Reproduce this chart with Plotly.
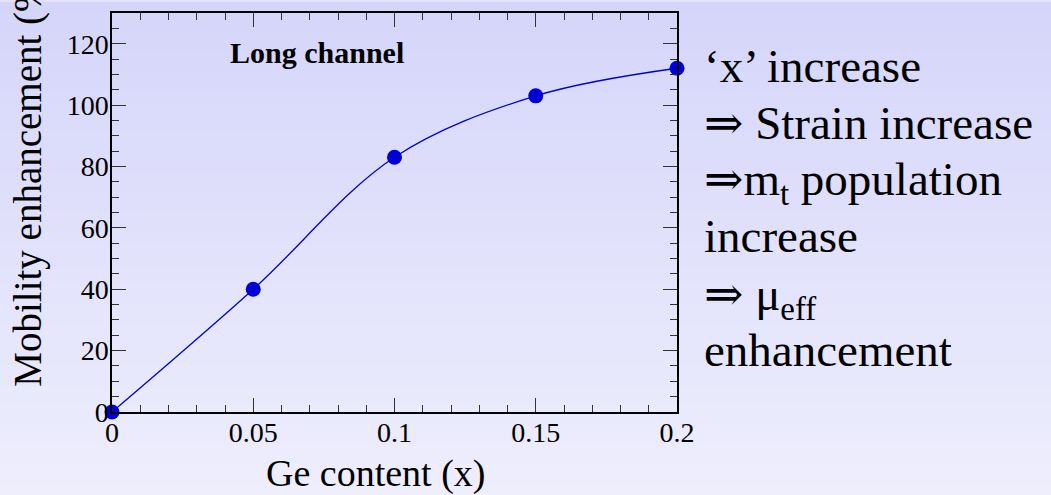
import plotly.graph_objects as go

# Mobility enhancement vs Ge content (long channel device)
ge_content = [0.0, 0.05, 0.10, 0.15, 0.20]
mobility_enh = [0, 40, 83, 103, 112]

x_ticks = [0, 0.05, 0.1, 0.15, 0.2]
x_tick_text = ["0", "0.05", "0.1", "0.15", "0.2"]
y_ticks = [0, 20, 40, 60, 80, 100, 120]

bullet_lines = [
    "‘x’ increase",
    "⇒ Strain increase",
    "⇒m<sub>t</sub> population",
    "increase",
    "⇒ μ<sub>eff</sub>",
    "enhancement",
]

W, H = 1051, 495
L, R, T, B = 112, 374, 11, 83
PW, PH = W - L - R, H - T - B
SERIF = "Liberation Serif, Times New Roman, DejaVu Serif, serif"
BLUE = "#0000D6"


def px_x(px):
    return (px - L) / PW


def px_y(py):
    return (H - B - py) / PH


fig = go.Figure()
fig.add_trace(go.Scatter(
    x=ge_content, y=mobility_enh,
    mode="lines+markers",
    line=dict(color=BLUE, width=1.3, shape="spline", smoothing=1.0),
    marker=dict(color=BLUE, size=15),
    cliponaxis=False,
    showlegend=False,
))

# soft vertical lavender gradient behind everything
n_bands = 99
top_rgb = (213, 213, 250)
bot_rgb = (238, 238, 253)
shapes = []
for i in range(n_bands):
    t = i / (n_bands - 1)
    c = tuple(round(a + (b - a) * t) for a, b in zip(top_rgb, bot_rgb))
    y0 = H * i / n_bands
    y1 = H * (i + 1) / n_bands + 1
    shapes.append(dict(
        type="rect", xref="paper", yref="paper", layer="below",
        x0=px_x(0), x1=px_x(W), y0=px_y(y1), y1=px_y(y0),
        fillcolor="rgb(%d,%d,%d)" % c, line=dict(width=0),
    ))

annotations = [
    dict(text="<b>Long channel</b>", x=px_x(228), y=px_y(51),
         xanchor="left", yanchor="middle",
         font=dict(family=SERIF, size=30, color="black")),
    dict(text="Mobility enhancement (%)", textangle=-90,
         x=px_x(28.5), y=px_y(176), xanchor="center", yanchor="middle",
         font=dict(family=SERIF, size=39, color="black")),
    dict(text="Ge content (x)", x=px_x(375), y=px_y(474),
         xanchor="center", yanchor="middle",
         font=dict(family=SERIF, size=38, color="black")),
]
centers = [64, 122, 181, 235, 297, 350]
for txt, cy in zip(bullet_lines, centers):
    annotations.append(dict(
        text=txt, x=px_x(702), y=px_y(cy), xanchor="left", yanchor="middle",
        align="left", font=dict(family=SERIF, size=47, color="black"),
    ))
for a in annotations:
    a.update(xref="paper", yref="paper", showarrow=False)

axis_common = dict(
    showgrid=False, zeroline=False,
    showline=True, linecolor="black", linewidth=1.5,
    mirror="ticks", ticks="inside", ticklen=14, tickwidth=1.3, tickcolor="#333333",
    tickfont=dict(family=SERIF, size=28, color="black"),
)

fig.update_layout(
    width=W, height=H,
    margin=dict(l=L, r=R, t=T, b=B),
    paper_bgcolor="rgb(226,226,251)",
    plot_bgcolor="rgba(0,0,0,0)",
    shapes=shapes,
    annotations=annotations,
    xaxis=dict(
        range=[0, 0.2], tickvals=x_ticks, ticktext=x_tick_text,
        ticklabelstandoff=-5,
        minor=dict(dtick=0.01, ticks="inside", ticklen=7, tickwidth=1.3, tickcolor="#333333"),
        **axis_common,
    ),
    yaxis=dict(
        range=[0, 130], tickvals=y_ticks,
        ticklabelstandoff=-4,
        minor=dict(dtick=5, ticks="inside", ticklen=7, tickwidth=1.3, tickcolor="#333333"),
        **axis_common,
    ),
)

fig.write_html("out.html")
